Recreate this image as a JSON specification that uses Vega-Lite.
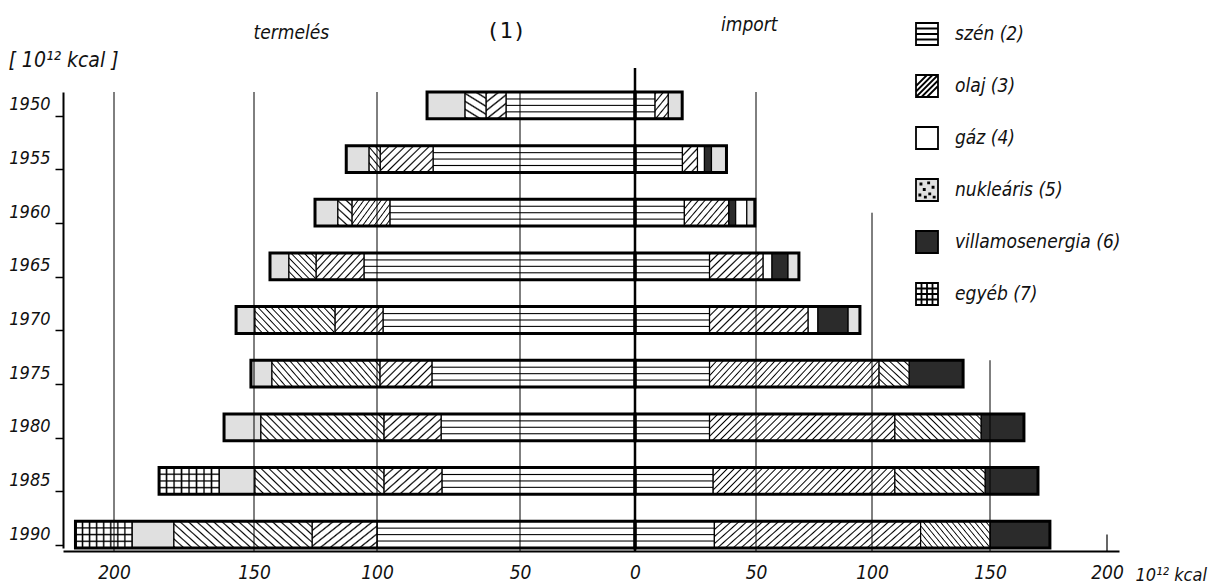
{
"$schema": "https://vega.github.io/schema/vega-lite/v6.json",
"autosize": "none",
"padding": {"left": 63, "top": 68, "right": 106, "bottom": 35},
"width": 1056,
"height": 483,
"background": "#ffffff",
"config": {"view": {"stroke": null}, "font": "Liberation Sans Narrow, DejaVu Sans Condensed, DejaVu Sans, sans-serif"},
"datasets": {
"seg": [
{"year":"1950","side":"termelés","kat":"szén","value":-54.9},
{"year":"1950","side":"termelés","kat":"olaj","value":-7.0},
{"year":"1950","side":"termelés","kat":"gáz","value":-7.3},
{"year":"1950","side":"termelés","kat":"nukleáris","value":-13.3},
{"year":"1950","side":"import","kat":"szén","value":8.3},
{"year":"1950","side":"import","kat":"olaj","value":5.4},
{"year":"1950","side":"import","kat":"nukleáris","value":5.8},
{"year":"1955","side":"termelés","kat":"szén","value":-80.4},
{"year":"1955","side":"termelés","kat":"olaj","value":-18.5},
{"year":"1955","side":"termelés","kat":"gáz","value":-4.3},
{"year":"1955","side":"termelés","kat":"nukleáris","value":-9.3},
{"year":"1955","side":"import","kat":"szén","value":19.6},
{"year":"1955","side":"import","kat":"olaj","value":6.2},
{"year":"1955","side":"import","kat":"gáz","value":2.9},
{"year":"1955","side":"import","kat":"villamosenergia","value":2.9},
{"year":"1955","side":"import","kat":"nukleáris","value":6.2},
{"year":"1960","side":"termelés","kat":"szén","value":-95.5},
{"year":"1960","side":"termelés","kat":"olaj","value":-14.7},
{"year":"1960","side":"termelés","kat":"gáz","value":-5.7},
{"year":"1960","side":"termelés","kat":"nukleáris","value":-9.3},
{"year":"1960","side":"import","kat":"szén","value":20.4},
{"year":"1960","side":"import","kat":"olaj","value":18.3},
{"year":"1960","side":"import","kat":"villamosenergia","value":2.9},
{"year":"1960","side":"import","kat":"gáz","value":4.6},
{"year":"1960","side":"import","kat":"nukleáris","value":3.3},
{"year":"1965","side":"termelés","kat":"szén","value":-105.3},
{"year":"1965","side":"termelés","kat":"olaj","value":-19.5},
{"year":"1965","side":"termelés","kat":"gáz","value":-11.0},
{"year":"1965","side":"termelés","kat":"nukleáris","value":-7.7},
{"year":"1965","side":"import","kat":"szén","value":30.8},
{"year":"1965","side":"import","kat":"olaj","value":22.2},
{"year":"1965","side":"import","kat":"gáz","value":3.9},
{"year":"1965","side":"import","kat":"villamosenergia","value":6.9},
{"year":"1965","side":"import","kat":"nukleáris","value":4.7},
{"year":"1970","side":"termelés","kat":"szén","value":-97.9},
{"year":"1970","side":"termelés","kat":"olaj","value":-19.2},
{"year":"1970","side":"termelés","kat":"gáz","value":-32.5},
{"year":"1970","side":"termelés","kat":"nukleáris","value":-6.8},
{"year":"1970","side":"import","kat":"szén","value":30.8},
{"year":"1970","side":"import","kat":"olaj","value":41.6},
{"year":"1970","side":"import","kat":"gáz","value":4.3},
{"year":"1970","side":"import","kat":"villamosenergia","value":13.0},
{"year":"1970","side":"import","kat":"nukleáris","value":5.1},
{"year":"1975","side":"termelés","kat":"szén","value":-80.8},
{"year":"1975","side":"termelés","kat":"olaj","value":-18.2},
{"year":"1975","side":"termelés","kat":"gáz","value":-43.7},
{"year":"1975","side":"termelés","kat":"nukleáris","value":-8.4},
{"year":"1975","side":"import","kat":"szén","value":30.8},
{"year":"1975","side":"import","kat":"olaj","value":72.2},
{"year":"1975","side":"import","kat":"gáz","value":12.7},
{"year":"1975","side":"import","kat":"villamosenergia","value":22.9},
{"year":"1980","side":"termelés","kat":"szén","value":-77.6},
{"year":"1980","side":"termelés","kat":"olaj","value":-20.0},
{"year":"1980","side":"termelés","kat":"gáz","value":-49.6},
{"year":"1980","side":"termelés","kat":"nukleáris","value":-13.5},
{"year":"1980","side":"import","kat":"szén","value":30.8},
{"year":"1980","side":"import","kat":"olaj","value":78.9},
{"year":"1980","side":"import","kat":"gáz","value":36.5},
{"year":"1980","side":"import","kat":"villamosenergia","value":18.3},
{"year":"1985","side":"termelés","kat":"szén","value":-77.3},
{"year":"1985","side":"termelés","kat":"olaj","value":-20.3},
{"year":"1985","side":"termelés","kat":"gáz","value":-52.0},
{"year":"1985","side":"termelés","kat":"nukleáris","value":-12.9},
{"year":"1985","side":"termelés","kat":"egyéb","value":-21.4},
{"year":"1985","side":"import","kat":"szén","value":32.3},
{"year":"1985","side":"import","kat":"olaj","value":77.4},
{"year":"1985","side":"import","kat":"gáz","value":38.2},
{"year":"1985","side":"import","kat":"villamosenergia","value":22.6},
{"year":"1990","side":"termelés","kat":"szén","value":-100.0},
{"year":"1990","side":"termelés","kat":"olaj","value":-26.4},
{"year":"1990","side":"termelés","kat":"gáz","value":-52.2},
{"year":"1990","side":"termelés","kat":"nukleáris","value":-15.0},
{"year":"1990","side":"termelés","kat":"egyéb","value":-20.0},
{"year":"1990","side":"import","kat":"szén","value":32.8},
{"year":"1990","side":"import","kat":"olaj","value":87.8},
{"year":"1990","side":"import","kat":"gáz","value":29.4},
{"year":"1990","side":"import","kat":"villamosenergia","value":25.6}
]
},
"layer": [
{
"data": {"name": "seg"},
"transform": [{"stack": "value", "groupby": ["year"], "as": ["v0", "v1"]}],
"mark": {"type": "bar", "stroke": "#000", "strokeWidth": 1.2},
"encoding": {
"y": {"field": "year", "type": "ordinal", "scale": {"range": [24, 480], "paddingInner": 0.5, "paddingOuter": 0},
 "axis": {"orient": "left", "title": "[ 10¹² kcal ]", "titleAngle": 0, "titleX": -55, "titleY": -8, "titleAlign": "left", "titleBaseline": "middle", "titleFontSize": 21, "titleFontStyle": "italic", "titleFontWeight": "normal", "titleColor": "#111", "domainColor": "#000", "domainWidth": 2, "tickColor": "#000", "tickSize": 8, "tickWidth": 1.5, "bandPosition": 0.9, "labelFontSize": 18, "labelFontStyle": "italic", "labelColor": "#111", "labelPadding": 5, "grid": false}},
"x": {"field": "v0", "type": "quantitative", "scale": {"domain": [-218, -200, -150, -100, -50, 0, 50, 100, 150, 200, 205], "range": [0, 51, 191, 314, 457, 572, 693, 809, 927, 1044, 1056], "nice": false},
 "axis": {"orient": "bottom", "values": [-200, -150, -100, -50, 0, 50, 100, 150, 200], "labelExpr": "abs(datum.value)", "ticks": false, "grid": false, "domainColor": "#000", "domainWidth": 2, "labelPadding": 12, "labelFontSize": 19, "labelFontStyle": "italic", "labelColor": "#111", "labelFlush": false, "labelOverlap": false, "title": "10¹² kcal", "titleX": 1072, "titleY": 24, "titleAlign": "left", "titleBaseline": "middle", "titleFontSize": 18, "titleFontStyle": "italic", "titleFontWeight": "normal", "titleColor": "#111"}},
"x2": {"field": "v1"},
"color": {"condition": [{"test": "datum.kat === 'nukleáris'", "value": "#e0e0e0"}, {"test": "datum.kat === 'villamosenergia'", "value": "#2b2b2b"}], "value": "#ffffff"}
}
},
{
"data": {"name": "seg"},
"transform": [{"stack": "value", "groupby": ["year"], "as": ["v0", "v1"]}, {"filter": "datum.kat === 'szén'"}],
"mark": {"type": "bar", "stroke": "#000", "strokeWidth": 1.2, "fill": {"gradient":"linear","x1":0,"y1":0,"x2":0,"y2":1,"stops":[{"offset":0,"color":"#fff"},{"offset":0.22,"color":"#fff"},{"offset":0.26,"color":"#000"},{"offset":0.3,"color":"#fff"},{"offset":0.46,"color":"#fff"},{"offset":0.5,"color":"#000"},{"offset":0.54,"color":"#fff"},{"offset":0.7,"color":"#fff"},{"offset":0.74,"color":"#000"},{"offset":0.78,"color":"#fff"},{"offset":1,"color":"#fff"}]}},
"encoding": {"y": {"field": "year", "type": "ordinal"}, "x": {"field": "v0", "type": "quantitative", "axis": null}, "x2": {"field": "v1"}}
},
{
"data": {"name": "seg"},
"transform": [{"stack": "value", "groupby": ["year"], "as": ["v0", "v1"]}, {"filter": "datum.kat === 'egyéb'"}],
"mark": {"type": "bar", "stroke": "#000", "strokeWidth": 1.2, "fill": {"gradient":"linear","x1":0,"y1":0,"x2":0,"y2":1,"stops":[{"offset":0,"color":"#fff"},{"offset":0.2,"color":"#fff"},{"offset":0.25,"color":"#000"},{"offset":0.3,"color":"#fff"},{"offset":0.45,"color":"#fff"},{"offset":0.5,"color":"#000"},{"offset":0.55,"color":"#fff"},{"offset":0.7,"color":"#fff"},{"offset":0.75,"color":"#000"},{"offset":0.8,"color":"#fff"},{"offset":1,"color":"#fff"}]}},
"encoding": {"y": {"field": "year", "type": "ordinal"}, "x": {"field": "v0", "type": "quantitative", "axis": null}, "x2": {"field": "v1"}}
},
{
"data": {"name": "seg"},
"transform": [{"stack": "value", "groupby": ["year"], "as": ["v0", "v1"]}, {"filter": "datum.kat === 'egyéb'"}],
"mark": {"type": "bar", "strokeWidth": 0, "fill": {"gradient":"linear","x1":0,"y1":0,"x2":1,"y2":0,"stops":[{"offset":0,"color":"rgba(0,0,0,0)"},{"offset":0.1,"color":"rgba(0,0,0,0)"},{"offset":0.125,"color":"#000"},{"offset":0.15,"color":"rgba(0,0,0,0)"},{"offset":0.225,"color":"rgba(0,0,0,0)"},{"offset":0.25,"color":"#000"},{"offset":0.275,"color":"rgba(0,0,0,0)"},{"offset":0.35,"color":"rgba(0,0,0,0)"},{"offset":0.375,"color":"#000"},{"offset":0.4,"color":"rgba(0,0,0,0)"},{"offset":0.475,"color":"rgba(0,0,0,0)"},{"offset":0.5,"color":"#000"},{"offset":0.525,"color":"rgba(0,0,0,0)"},{"offset":0.6,"color":"rgba(0,0,0,0)"},{"offset":0.625,"color":"#000"},{"offset":0.65,"color":"rgba(0,0,0,0)"},{"offset":0.725,"color":"rgba(0,0,0,0)"},{"offset":0.75,"color":"#000"},{"offset":0.775,"color":"rgba(0,0,0,0)"},{"offset":0.85,"color":"rgba(0,0,0,0)"},{"offset":0.875,"color":"#000"},{"offset":0.9,"color":"rgba(0,0,0,0)"},{"offset":1,"color":"rgba(0,0,0,0)"}]}},
"encoding": {"y": {"field": "year", "type": "ordinal"}, "x": {"field": "v0", "type": "quantitative", "axis": null}, "x2": {"field": "v1"}}
},
{
"data": {"name": "seg"},
"transform": [{"stack": "value", "groupby": ["year"], "as": ["v0", "v1"]}, {"filter": "datum.kat === 'olaj' && abs(datum.value) < 9"}],
"mark": {"type": "bar", "stroke": "#000", "strokeWidth": 1.2, "fill": {"gradient":"linear","x1":0,"y1":0,"x2":0.698,"y2":1.179,"stops":[{"offset":0,"color":"#fff"},{"offset":0.04,"color":"#000"},{"offset":0.08,"color":"#fff"},{"offset":0.2,"color":"#fff"},{"offset":0.24,"color":"#000"},{"offset":0.28,"color":"#fff"},{"offset":0.4,"color":"#fff"},{"offset":0.44,"color":"#000"},{"offset":0.48,"color":"#fff"},{"offset":0.6,"color":"#fff"},{"offset":0.64,"color":"#000"},{"offset":0.68,"color":"#fff"},{"offset":0.8,"color":"#fff"},{"offset":0.84,"color":"#000"},{"offset":0.88,"color":"#fff"}]}},
"encoding": {"y": {"field": "year", "type": "ordinal"}, "x": {"field": "v0", "type": "quantitative", "axis": null}, "x2": {"field": "v1"}}
},
{
"data": {"name": "seg"},
"transform": [{"stack": "value", "groupby": ["year"], "as": ["v0", "v1"]}, {"filter": "datum.kat === 'olaj' && abs(datum.value) >= 9 && abs(datum.value) < 30"}],
"mark": {"type": "bar", "stroke": "#000", "strokeWidth": 1.2, "fill": {"gradient":"linear","x1":0,"y1":0,"x2":1.197,"y2":0.621,"stops":[{"offset":0,"color":"#fff"},{"offset":0.02,"color":"#000"},{"offset":0.04,"color":"#fff"},{"offset":0.1,"color":"#fff"},{"offset":0.12,"color":"#000"},{"offset":0.14,"color":"#fff"},{"offset":0.2,"color":"#fff"},{"offset":0.22,"color":"#000"},{"offset":0.24,"color":"#fff"},{"offset":0.3,"color":"#fff"},{"offset":0.32,"color":"#000"},{"offset":0.34,"color":"#fff"},{"offset":0.4,"color":"#fff"},{"offset":0.42,"color":"#000"},{"offset":0.44,"color":"#fff"},{"offset":0.5,"color":"#fff"},{"offset":0.52,"color":"#000"},{"offset":0.54,"color":"#fff"},{"offset":0.6,"color":"#fff"},{"offset":0.62,"color":"#000"},{"offset":0.64,"color":"#fff"},{"offset":0.7,"color":"#fff"},{"offset":0.72,"color":"#000"},{"offset":0.74,"color":"#fff"},{"offset":0.8,"color":"#fff"},{"offset":0.82,"color":"#000"},{"offset":0.84,"color":"#fff"},{"offset":0.9,"color":"#fff"},{"offset":0.92,"color":"#000"},{"offset":0.94,"color":"#fff"}]}},
"encoding": {"y": {"field": "year", "type": "ordinal"}, "x": {"field": "v0", "type": "quantitative", "axis": null}, "x2": {"field": "v1"}}
},
{
"data": {"name": "seg"},
"transform": [{"stack": "value", "groupby": ["year"], "as": ["v0", "v1"]}, {"filter": "datum.kat === 'olaj' && abs(datum.value) >= 30 && abs(datum.value) < 60"}],
"mark": {"type": "bar", "stroke": "#000", "strokeWidth": 1.2, "fill": {"gradient":"linear","x1":0,"y1":0,"x2":1.185,"y2":0.327,"stops":[{"offset":0,"color":"#fff"},{"offset":0.0125,"color":"#000"},{"offset":0.025,"color":"#fff"},{"offset":0.0625,"color":"#fff"},{"offset":0.075,"color":"#000"},{"offset":0.0875,"color":"#fff"},{"offset":0.125,"color":"#fff"},{"offset":0.1375,"color":"#000"},{"offset":0.15,"color":"#fff"},{"offset":0.1875,"color":"#fff"},{"offset":0.2,"color":"#000"},{"offset":0.2125,"color":"#fff"},{"offset":0.25,"color":"#fff"},{"offset":0.2625,"color":"#000"},{"offset":0.275,"color":"#fff"},{"offset":0.3125,"color":"#fff"},{"offset":0.325,"color":"#000"},{"offset":0.3375,"color":"#fff"},{"offset":0.375,"color":"#fff"},{"offset":0.3875,"color":"#000"},{"offset":0.4,"color":"#fff"},{"offset":0.4375,"color":"#fff"},{"offset":0.45,"color":"#000"},{"offset":0.4625,"color":"#fff"},{"offset":0.5,"color":"#fff"},{"offset":0.5125,"color":"#000"},{"offset":0.525,"color":"#fff"},{"offset":0.5625,"color":"#fff"},{"offset":0.575,"color":"#000"},{"offset":0.5875,"color":"#fff"},{"offset":0.625,"color":"#fff"},{"offset":0.6375,"color":"#000"},{"offset":0.65,"color":"#fff"},{"offset":0.6875,"color":"#fff"},{"offset":0.7,"color":"#000"},{"offset":0.7125,"color":"#fff"},{"offset":0.75,"color":"#fff"},{"offset":0.7625,"color":"#000"},{"offset":0.775,"color":"#fff"},{"offset":0.8125,"color":"#fff"},{"offset":0.825,"color":"#000"},{"offset":0.8375,"color":"#fff"},{"offset":0.875,"color":"#fff"},{"offset":0.8875,"color":"#000"},{"offset":0.9,"color":"#fff"},{"offset":0.9375,"color":"#fff"},{"offset":0.95,"color":"#000"},{"offset":0.9625,"color":"#fff"}]}},
"encoding": {"y": {"field": "year", "type": "ordinal"}, "x": {"field": "v0", "type": "quantitative", "axis": null}, "x2": {"field": "v1"}}
},
{
"data": {"name": "seg"},
"transform": [{"stack": "value", "groupby": ["year"], "as": ["v0", "v1"]}, {"filter": "datum.kat === 'olaj' && abs(datum.value) >= 60"}],
"mark": {"type": "bar", "stroke": "#000", "strokeWidth": 1.2, "fill": {"gradient":"linear","x1":0,"y1":0,"x2":1.122,"y2":0.164,"stops":[{"offset":0,"color":"#fff"},{"offset":0.0067,"color":"#000"},{"offset":0.0133,"color":"#fff"},{"offset":0.0333,"color":"#fff"},{"offset":0.04,"color":"#000"},{"offset":0.0467,"color":"#fff"},{"offset":0.0667,"color":"#fff"},{"offset":0.0733,"color":"#000"},{"offset":0.08,"color":"#fff"},{"offset":0.1,"color":"#fff"},{"offset":0.1067,"color":"#000"},{"offset":0.1133,"color":"#fff"},{"offset":0.1333,"color":"#fff"},{"offset":0.14,"color":"#000"},{"offset":0.1467,"color":"#fff"},{"offset":0.1667,"color":"#fff"},{"offset":0.1733,"color":"#000"},{"offset":0.18,"color":"#fff"},{"offset":0.2,"color":"#fff"},{"offset":0.2067,"color":"#000"},{"offset":0.2133,"color":"#fff"},{"offset":0.2333,"color":"#fff"},{"offset":0.24,"color":"#000"},{"offset":0.2467,"color":"#fff"},{"offset":0.2667,"color":"#fff"},{"offset":0.2733,"color":"#000"},{"offset":0.28,"color":"#fff"},{"offset":0.3,"color":"#fff"},{"offset":0.3067,"color":"#000"},{"offset":0.3133,"color":"#fff"},{"offset":0.3333,"color":"#fff"},{"offset":0.34,"color":"#000"},{"offset":0.3467,"color":"#fff"},{"offset":0.3667,"color":"#fff"},{"offset":0.3733,"color":"#000"},{"offset":0.38,"color":"#fff"},{"offset":0.4,"color":"#fff"},{"offset":0.4067,"color":"#000"},{"offset":0.4133,"color":"#fff"},{"offset":0.4333,"color":"#fff"},{"offset":0.44,"color":"#000"},{"offset":0.4467,"color":"#fff"},{"offset":0.4667,"color":"#fff"},{"offset":0.4733,"color":"#000"},{"offset":0.48,"color":"#fff"},{"offset":0.5,"color":"#fff"},{"offset":0.5067,"color":"#000"},{"offset":0.5133,"color":"#fff"},{"offset":0.5333,"color":"#fff"},{"offset":0.54,"color":"#000"},{"offset":0.5467,"color":"#fff"},{"offset":0.5667,"color":"#fff"},{"offset":0.5733,"color":"#000"},{"offset":0.58,"color":"#fff"},{"offset":0.6,"color":"#fff"},{"offset":0.6067,"color":"#000"},{"offset":0.6133,"color":"#fff"},{"offset":0.6333,"color":"#fff"},{"offset":0.64,"color":"#000"},{"offset":0.6467,"color":"#fff"},{"offset":0.6667,"color":"#fff"},{"offset":0.6733,"color":"#000"},{"offset":0.68,"color":"#fff"},{"offset":0.7,"color":"#fff"},{"offset":0.7067,"color":"#000"},{"offset":0.7133,"color":"#fff"},{"offset":0.7333,"color":"#fff"},{"offset":0.74,"color":"#000"},{"offset":0.7467,"color":"#fff"},{"offset":0.7667,"color":"#fff"},{"offset":0.7733,"color":"#000"},{"offset":0.78,"color":"#fff"},{"offset":0.8,"color":"#fff"},{"offset":0.8067,"color":"#000"},{"offset":0.8133,"color":"#fff"},{"offset":0.8333,"color":"#fff"},{"offset":0.84,"color":"#000"},{"offset":0.8467,"color":"#fff"},{"offset":0.8667,"color":"#fff"},{"offset":0.8733,"color":"#000"},{"offset":0.88,"color":"#fff"},{"offset":0.9,"color":"#fff"},{"offset":0.9067,"color":"#000"},{"offset":0.9133,"color":"#fff"},{"offset":0.9333,"color":"#fff"},{"offset":0.94,"color":"#000"},{"offset":0.9467,"color":"#fff"},{"offset":0.9667,"color":"#fff"},{"offset":0.9733,"color":"#000"},{"offset":0.98,"color":"#fff"}]}},
"encoding": {"y": {"field": "year", "type": "ordinal"}, "x": {"field": "v0", "type": "quantitative", "axis": null}, "x2": {"field": "v1"}}
},
{
"data": {"name": "seg"},
"transform": [{"stack": "value", "groupby": ["year"], "as": ["v0", "v1"]}, {"filter": "datum.kat === 'gáz' && abs(datum.value) < 9 && datum.side === 'termelés'"}],
"mark": {"type": "bar", "stroke": "#000", "strokeWidth": 1.2, "fill": {"gradient":"linear","x1":0,"y1":1,"x2":0.579,"y2":-0.203,"stops":[{"offset":0,"color":"#fff"},{"offset":0.04,"color":"#000"},{"offset":0.08,"color":"#fff"},{"offset":0.2,"color":"#fff"},{"offset":0.24,"color":"#000"},{"offset":0.28,"color":"#fff"},{"offset":0.4,"color":"#fff"},{"offset":0.44,"color":"#000"},{"offset":0.48,"color":"#fff"},{"offset":0.6,"color":"#fff"},{"offset":0.64,"color":"#000"},{"offset":0.68,"color":"#fff"},{"offset":0.8,"color":"#fff"},{"offset":0.84,"color":"#000"},{"offset":0.88,"color":"#fff"}]}},
"encoding": {"y": {"field": "year", "type": "ordinal"}, "x": {"field": "v0", "type": "quantitative", "axis": null}, "x2": {"field": "v1"}}
},
{
"data": {"name": "seg"},
"transform": [{"stack": "value", "groupby": ["year"], "as": ["v0", "v1"]}, {"filter": "datum.kat === 'gáz' && abs(datum.value) >= 9 && abs(datum.value) < 20"}],
"mark": {"type": "bar", "stroke": "#000", "strokeWidth": 1.2, "fill": {"gradient":"linear","x1":0,"y1":1,"x2":1.018,"y2":0.019,"stops":[{"offset":0,"color":"#fff"},{"offset":0.025,"color":"#000"},{"offset":0.05,"color":"#fff"},{"offset":0.125,"color":"#fff"},{"offset":0.15,"color":"#000"},{"offset":0.175,"color":"#fff"},{"offset":0.25,"color":"#fff"},{"offset":0.275,"color":"#000"},{"offset":0.3,"color":"#fff"},{"offset":0.375,"color":"#fff"},{"offset":0.4,"color":"#000"},{"offset":0.425,"color":"#fff"},{"offset":0.5,"color":"#fff"},{"offset":0.525,"color":"#000"},{"offset":0.55,"color":"#fff"},{"offset":0.625,"color":"#fff"},{"offset":0.65,"color":"#000"},{"offset":0.675,"color":"#fff"},{"offset":0.75,"color":"#fff"},{"offset":0.775,"color":"#000"},{"offset":0.8,"color":"#fff"},{"offset":0.875,"color":"#fff"},{"offset":0.9,"color":"#000"},{"offset":0.925,"color":"#fff"}]}},
"encoding": {"y": {"field": "year", "type": "ordinal"}, "x": {"field": "v0", "type": "quantitative", "axis": null}, "x2": {"field": "v1"}}
},
{
"data": {"name": "seg"},
"transform": [{"stack": "value", "groupby": ["year"], "as": ["v0", "v1"]}, {"filter": "datum.kat === 'gáz' && abs(datum.value) >= 20 && abs(datum.value) < 42"}],
"mark": {"type": "bar", "stroke": "#000", "strokeWidth": 1.2, "fill": {"gradient":"linear","x1":0,"y1":1,"x2":1.197,"y2":0.62,"stops":[{"offset":0,"color":"#fff"},{"offset":0.0125,"color":"#000"},{"offset":0.025,"color":"#fff"},{"offset":0.0625,"color":"#fff"},{"offset":0.075,"color":"#000"},{"offset":0.0875,"color":"#fff"},{"offset":0.125,"color":"#fff"},{"offset":0.1375,"color":"#000"},{"offset":0.15,"color":"#fff"},{"offset":0.1875,"color":"#fff"},{"offset":0.2,"color":"#000"},{"offset":0.2125,"color":"#fff"},{"offset":0.25,"color":"#fff"},{"offset":0.2625,"color":"#000"},{"offset":0.275,"color":"#fff"},{"offset":0.3125,"color":"#fff"},{"offset":0.325,"color":"#000"},{"offset":0.3375,"color":"#fff"},{"offset":0.375,"color":"#fff"},{"offset":0.3875,"color":"#000"},{"offset":0.4,"color":"#fff"},{"offset":0.4375,"color":"#fff"},{"offset":0.45,"color":"#000"},{"offset":0.4625,"color":"#fff"},{"offset":0.5,"color":"#fff"},{"offset":0.5125,"color":"#000"},{"offset":0.525,"color":"#fff"},{"offset":0.5625,"color":"#fff"},{"offset":0.575,"color":"#000"},{"offset":0.5875,"color":"#fff"},{"offset":0.625,"color":"#fff"},{"offset":0.6375,"color":"#000"},{"offset":0.65,"color":"#fff"},{"offset":0.6875,"color":"#fff"},{"offset":0.7,"color":"#000"},{"offset":0.7125,"color":"#fff"},{"offset":0.75,"color":"#fff"},{"offset":0.7625,"color":"#000"},{"offset":0.775,"color":"#fff"},{"offset":0.8125,"color":"#fff"},{"offset":0.825,"color":"#000"},{"offset":0.8375,"color":"#fff"},{"offset":0.875,"color":"#fff"},{"offset":0.8875,"color":"#000"},{"offset":0.9,"color":"#fff"},{"offset":0.9375,"color":"#fff"},{"offset":0.95,"color":"#000"},{"offset":0.9625,"color":"#fff"}]}},
"encoding": {"y": {"field": "year", "type": "ordinal"}, "x": {"field": "v0", "type": "quantitative", "axis": null}, "x2": {"field": "v1"}}
},
{
"data": {"name": "seg"},
"transform": [{"stack": "value", "groupby": ["year"], "as": ["v0", "v1"]}, {"filter": "datum.kat === 'gáz' && abs(datum.value) >= 42"}],
"mark": {"type": "bar", "stroke": "#000", "strokeWidth": 1.2, "fill": {"gradient":"linear","x1":0,"y1":1,"x2":1.162,"y2":0.749,"stops":[{"offset":0,"color":"#fff"},{"offset":0.01,"color":"#000"},{"offset":0.02,"color":"#fff"},{"offset":0.05,"color":"#fff"},{"offset":0.06,"color":"#000"},{"offset":0.07,"color":"#fff"},{"offset":0.1,"color":"#fff"},{"offset":0.11,"color":"#000"},{"offset":0.12,"color":"#fff"},{"offset":0.15,"color":"#fff"},{"offset":0.16,"color":"#000"},{"offset":0.17,"color":"#fff"},{"offset":0.2,"color":"#fff"},{"offset":0.21,"color":"#000"},{"offset":0.22,"color":"#fff"},{"offset":0.25,"color":"#fff"},{"offset":0.26,"color":"#000"},{"offset":0.27,"color":"#fff"},{"offset":0.3,"color":"#fff"},{"offset":0.31,"color":"#000"},{"offset":0.32,"color":"#fff"},{"offset":0.35,"color":"#fff"},{"offset":0.36,"color":"#000"},{"offset":0.37,"color":"#fff"},{"offset":0.4,"color":"#fff"},{"offset":0.41,"color":"#000"},{"offset":0.42,"color":"#fff"},{"offset":0.45,"color":"#fff"},{"offset":0.46,"color":"#000"},{"offset":0.47,"color":"#fff"},{"offset":0.5,"color":"#fff"},{"offset":0.51,"color":"#000"},{"offset":0.52,"color":"#fff"},{"offset":0.55,"color":"#fff"},{"offset":0.56,"color":"#000"},{"offset":0.57,"color":"#fff"},{"offset":0.6,"color":"#fff"},{"offset":0.61,"color":"#000"},{"offset":0.62,"color":"#fff"},{"offset":0.65,"color":"#fff"},{"offset":0.66,"color":"#000"},{"offset":0.67,"color":"#fff"},{"offset":0.7,"color":"#fff"},{"offset":0.71,"color":"#000"},{"offset":0.72,"color":"#fff"},{"offset":0.75,"color":"#fff"},{"offset":0.76,"color":"#000"},{"offset":0.77,"color":"#fff"},{"offset":0.8,"color":"#fff"},{"offset":0.81,"color":"#000"},{"offset":0.82,"color":"#fff"},{"offset":0.85,"color":"#fff"},{"offset":0.86,"color":"#000"},{"offset":0.87,"color":"#fff"},{"offset":0.9,"color":"#fff"},{"offset":0.91,"color":"#000"},{"offset":0.92,"color":"#fff"},{"offset":0.95,"color":"#fff"},{"offset":0.96,"color":"#000"},{"offset":0.97,"color":"#fff"}]}},
"encoding": {"y": {"field": "year", "type": "ordinal"}, "x": {"field": "v0", "type": "quantitative", "axis": null}, "x2": {"field": "v1"}}
},
{
"data": {"name": "seg"},
"mark": {"type": "bar", "fillOpacity": 0, "stroke": "#000", "strokeWidth": 3},
"encoding": {"y": {"field": "year", "type": "ordinal"}, "x": {"aggregate": "sum", "field": "value", "type": "quantitative", "stack": null, "axis": null}, "x2": {"datum": 0}, "detail": {"field": "side"}}
},
{
"data": {"values": [{"x": -200}, {"x": -150}, {"x": -100}, {"x": -50}, {"x": 50}]},
"mark": {"type": "rule", "strokeWidth": 1, "color": "#000"},
"encoding": {"x": {"field": "x", "type": "quantitative", "axis": null}, "y": {"datum": "1950", "type": "ordinal", "bandPosition": 0}, "y2": {"value": "height"}}
},
{
"data": {"values": [{"x": 100}]},
"mark": {"type": "rule", "strokeWidth": 1, "color": "#000"},
"encoding": {"x": {"field": "x", "type": "quantitative", "axis": null}, "y": {"datum": "1960", "type": "ordinal", "bandPosition": 0.5}, "y2": {"value": "height"}}
},
{
"data": {"values": [{"x": 150}]},
"mark": {"type": "rule", "strokeWidth": 1, "color": "#000"},
"encoding": {"x": {"field": "x", "type": "quantitative", "axis": null}, "y": {"datum": "1975", "type": "ordinal", "bandPosition": 0}, "y2": {"value": "height"}}
},
{
"data": {"values": [{"x": 200}]},
"mark": {"type": "rule", "strokeWidth": 1.2, "color": "#000"},
"encoding": {"x": {"field": "x", "type": "quantitative", "axis": null}, "y": {"datum": "1990", "type": "ordinal", "bandPosition": 0.5}, "y2": {"value": "height"}}
},
{
"data": {"values": [{}]},
"mark": {"type": "rule", "strokeWidth": 2.5, "color": "#000"},
"encoding": {"x": {"datum": 0, "type": "quantitative",
 "axis": {"orient": "top", "values": [-135, -55, 47], "labelExpr": "datum.value < -100 ? 'termelés' : (datum.value < 0 ? '(1)' : 'import')", "domain": false, "ticks": false, "grid": false, "title": null, "labelOverlap": false, "labelFlush": false, "labelColor": "#111",
  "labelFontSize": {"condition": {"test": "datum.value == -55", "value": 22}, "value": 19},
  "labelFont": {"condition": {"test": "datum.value == -55", "value": "DejaVu Sans Mono"}, "value": "Liberation Sans Narrow, DejaVu Sans Condensed, DejaVu Sans, sans-serif"},
  "labelFontStyle": {"condition": {"test": "datum.value == -55", "value": "normal"}, "value": "italic"},
  "labelPadding": {"condition": {"test": "datum.value > 0", "value": 34}, "value": 26}}}}
},
{
"data": {"name": "seg"},
"transform": [{"filter": "false"}],
"mark": {"type": "point", "filled": true, "stroke": "#000", "strokeWidth": 1.8, "opacity": 1},
"encoding": {
"x": {"field": "value", "type": "quantitative", "axis": null},
"y": {"field": "year", "type": "ordinal"},
"fill": {"field": "kat", "type": "nominal",
 "scale": {"domain": ["szén", "olaj", "gáz", "nukleáris", "villamosenergia", "egyéb"], "range": ["#ffffff", "#ffffff", "#ffffff", "#e0e0e0", "#2b2b2b", "#ffffff"]},
 "legend": {"orient": "none", "legendX": 852, "legendY": -46, "title": null, "padding": 0, "symbolSize": 484, "symbolStrokeWidth": 1.8, "symbolOpacity": 1, "rowPadding": 22, "labelOffset": 16, "labelFontSize": 19, "labelFontStyle": "italic", "labelColor": "#111", "labelLimit": 300,
  "labelExpr": "datum.label + '  (' + (indexof(['szén','olaj','gáz','nukleáris','villamosenergia','egyéb'], datum.label) + 2) + ')'"}},
"shape": {"field": "kat", "type": "nominal",
 "scale": {"domain": ["szén", "olaj", "gáz", "nukleáris", "villamosenergia", "egyéb"], "range": [
  "M-1,-1H1V1H-1Z M-1,-0.5H1 M-1,0H1 M-1,0.5H1",
  "M-1,-1H1V1H-1Z M-1,0L0,-1 M-1,0.5L0.5,-1 M-1,1L1,-1 M-0.5,1L1,-0.5 M0,1L1,0",
  "M-1,-1H1V1H-1Z",
  "M-1,-1H1V1H-1Z M-0.6,-0.6h0.1v0.1h-0.1Z M0.1,-0.7h0.1v0.1h-0.1Z M0.5,-0.3h0.1v0.1h-0.1Z M-0.3,-0.1h0.1v0.1h-0.1Z M-0.7,0.4h0.1v0.1h-0.1Z M0.2,0.3h0.1v0.1h-0.1Z M0.6,0.6h0.1v0.1h-0.1Z M-0.2,0.6h0.1v0.1h-0.1Z",
  "M-1,-1H1V1H-1Z",
  "M-1,-1H1V1H-1Z M-1,-0.5H1 M-1,0H1 M-1,0.5H1 M-0.5,-1V1 M0,-1V1 M0.5,-1V1"
 ]},
 "legend": {"orient": "none", "legendX": 852, "legendY": -46, "title": null, "padding": 0, "symbolSize": 484, "symbolStrokeWidth": 1.8, "symbolOpacity": 1, "rowPadding": 22, "labelOffset": 16, "labelFontSize": 19, "labelFontStyle": "italic", "labelColor": "#111", "labelLimit": 300,
  "labelExpr": "datum.label + '  (' + (indexof(['szén','olaj','gáz','nukleáris','villamosenergia','egyéb'], datum.label) + 2) + ')'"}}
}
}
],
"resolve": {"axis": {"x": "independent"}}
}
